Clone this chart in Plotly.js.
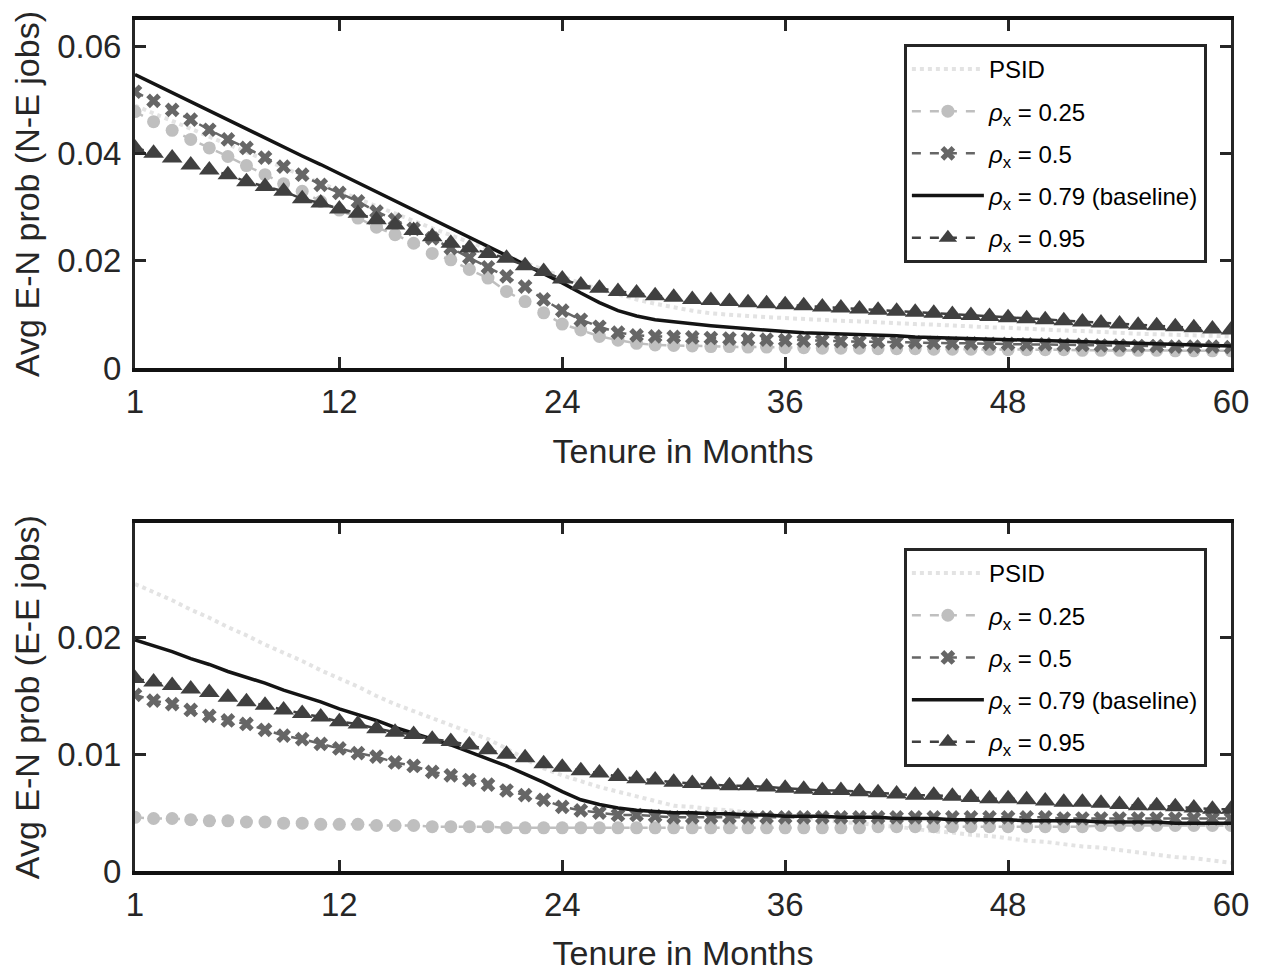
<!DOCTYPE html>
<html>
<head>
<meta charset="utf-8">
<script src="https://cdn.plot.ly/plotly-3.0.1.min.js"></script>
<style>html,body{margin:0;padding:0;background:#fff;}#chart{width:1261px;height:972px;}</style>
</head>
<body>
<div id="chart"></div>
<script>
// Months 1..60
const months = [1,2,3,4,5,6,7,8,9,10,11,12,13,14,15,16,17,18,19,20,21,22,23,24,25,26,27,28,29,30,31,32,33,34,35,36,37,38,39,40,41,42,43,44,45,46,47,48,49,50,51,52,53,54,55,56,57,58,59,60];
const xTickVals = [1,12,24,36,48,60];
const legendNames = ['PSID', '<i>ρ</i><sub>x</sub> = 0.25', '<i>ρ</i><sub>x</sub> = 0.5', '<i>ρ</i><sub>x</sub> = 0.79 (baseline)', '<i>ρ</i><sub>x</sub> = 0.95'];

// Top panel: N-E jobs
const psidTop = [.0490,.0476,.0461,.0447,.0432,.0418,.0403,.0389,.0374,.0360,.0345,.0331,.0316,.0302,.0287,.0274,.0261,.0248,.0235,.0222,.0209,.0196,.0183,.0170,.0158,.0147,.0137,.0128,.0120,.0113,.0107,.0102,.0099,.0097,.0095,.0093,.0091,.0090,.0088,.0087,.0085,.0084,.0082,.0081,.0079,.0078,.0076,.0075,.0073,.0072,.0070,.0069,.0067,.0066,.0064,.0063,.0062,.0061,.0060,.0059];
const rho25Top = [.0479,.0460,.0444,.0427,.0411,.0395,.0378,.0361,.0344,.0330,.0311,.0295,.0280,.0263,.0249,.0233,.0214,.0202,.0184,.0168,.0143,.0124,.0103,.0082,.0071,.0059,.0052,.0046,.0043,.0042,.0041,.0040,.0040,.0039,.0039,.0038,.0038,.0037,.0037,.0037,.0036,.0036,.0036,.0035,.0035,.0035,.0035,.0034,.0034,.0034,.0034,.0033,.0033,.0033,.0033,.0033,.0032,.0032,.0032,.0032];
const rho50Top = [.0516,.0499,.0482,.0464,.0445,.0427,.0411,.0393,.0376,.0361,.0342,.0327,.0311,.0292,.0277,.0260,.0242,.0224,.0206,.0188,.0171,.0152,.0128,.0107,.0090,.0077,.0066,.0061,.0059,.0058,.0057,.0056,.0055,.0054,.0053,.0052,.0051,.0051,.0050,.0049,.0049,.0048,.0048,.0047,.0046,.0046,.0045,.0045,.0044,.0044,.0043,.0043,.0042,.0042,.0041,.0041,.0040,.0040,.0040,.0039];
const rho79Top = [.0548,.0531,.0514,.0497,.0480,.0464,.0447,.0430,.0413,.0396,.0380,.0363,.0346,.0329,.0312,.0296,.0279,.0262,.0245,.0228,.0211,.0194,.0177,.0159,.0140,.0122,.0107,.0097,.0090,.0086,.0082,.0079,.0076,.0073,.0070,.0068,.0066,.0065,.0063,.0062,.0061,.0060,.0058,.0057,.0056,.0055,.0054,.0053,.0052,.0051,.0050,.0049,.0048,.0047,.0046,.0045,.0044,.0043,.0042,.0041];
const rho95Top = [.0411,.0401,.0392,.0379,.0370,.0361,.0348,.0339,.0330,.0316,.0308,.0297,.0289,.0277,.0267,.0257,.0245,.0233,.0224,.0214,.0205,.0191,.0180,.0166,.0155,.0149,.0143,.0140,.0135,.0132,.0128,.0126,.0124,.0122,.0120,.0118,.0116,.0114,.0112,.0110,.0108,.0106,.0104,.0102,.0100,.0098,.0096,.0094,.0092,.0090,.0088,.0086,.0084,.0082,.0080,.0079,.0077,.0075,.0073,.0071];
const yTickValsTop = [0, 0.02, 0.04, 0.06];
const yTickTextTop = ['0', '0.02', '0.04', '0.06'];

// Bottom panel: E-E jobs
const psidBot = [.0246,.0239,.0232,.0224,.0217,.0209,.0202,.0194,.0187,.0180,.0172,.0165,.0158,.0150,.0143,.0137,.0131,.0125,.0119,.0113,.0105,.0096,.0088,.0082,.0077,.0072,.0068,.0064,.0060,.0056,.0055,.0053,.0052,.0050,.0049,.0047,.0046,.0044,.0042,.0041,.0039,.0038,.0036,.0034,.0033,.0031,.0030,.0028,.0026,.0025,.0023,.0021,.0020,.0018,.0016,.0014,.0012,.0011,.0009,.0007];
const rho25Bot = [.0046,.0045,.0045,.0044,.0043,.0043,.0042,.0042,.0041,.0041,.0040,.0040,.0040,.0039,.0039,.0039,.0038,.0038,.0038,.0038,.0037,.0037,.0037,.0037,.0037,.0037,.0037,.0037,.0037,.0037,.0037,.0037,.0037,.0037,.0037,.0037,.0037,.0037,.0037,.0037,.0038,.0038,.0038,.0038,.0038,.0038,.0038,.0038,.0038,.0038,.0038,.0038,.0039,.0039,.0039,.0039,.0039,.0039,.0039,.0039];
const rho50Bot = [.0151,.0146,.0143,.0138,.0133,.0129,.0126,.0121,.0116,.0113,.0109,.0105,.0101,.0098,.0093,.0090,.0085,.0082,.0078,.0074,.0069,.0065,.0061,.0055,.0052,.0050,.0048,.0048,.0047,.0046,.0046,.0046,.0046,.0046,.0046,.0046,.0046,.0046,.0046,.0046,.0046,.0046,.0046,.0046,.0046,.0046,.0046,.0046,.0046,.0046,.0045,.0045,.0045,.0045,.0045,.0045,.0045,.0045,.0045,.0045];
const rho79Bot = [.0198,.0193,.0188,.0182,.0177,.0171,.0166,.0161,.0155,.0150,.0145,.0139,.0134,.0129,.0123,.0118,.0113,.0108,.0102,.0096,.0090,.0083,.0076,.0068,.0061,.0057,.0054,.0052,.0051,.0050,.0050,.0049,.0049,.0048,.0048,.0047,.0047,.0047,.0046,.0046,.0046,.0045,.0045,.0045,.0044,.0044,.0044,.0044,.0043,.0043,.0043,.0043,.0042,.0042,.0042,.0042,.0041,.0041,.0041,.0041];
const rho95Bot = [.0165,.0162,.0159,.0156,.0153,.0149,.0145,.0142,.0138,.0135,.0132,.0128,.0126,.0122,.0119,.0117,.0113,.0111,.0108,.0104,.0100,.0097,.0092,.0089,.0086,.0084,.0081,.0079,.0078,.0076,.0075,.0074,.0073,.0073,.0072,.0071,.0070,.0069,.0069,.0068,.0067,.0066,.0065,.0065,.0064,.0063,.0062,.0062,.0061,.0060,.0059,.0059,.0058,.0057,.0056,.0056,.0055,.0054,.0053,.0053];
const yTickValsBot = [0, 0.01, 0.02];
const yTickTextBot = ['0', '0.01', '0.02'];

const TXT = '#262626';
const FONT = 'Liberation Sans, Arial, Helvetica, sans-serif';

const styles = [
  {line:{color:'#e3e3e3', width:4, dash:'dot'}, mode:'lines'},
  {line:{color:'#bfbfbf', width:2.5, dash:'dash'}, mode:'lines+markers', marker:{symbol:'circle', size:13, color:'#bfbfbf'}},
  {line:{color:'#666666', width:2.5, dash:'dash'}, mode:'lines+markers', marker:{symbol:'x', size:13, color:'#666666'}},
  {line:{color:'#141414', width:3.5}, mode:'lines'},
  {line:{color:'#404040', width:2.5, dash:'dash'}, mode:'lines+markers', marker:{symbol:'triangle-up', size:18, color:'#404040'}}
];

function mk(ys, i, xa, ya, lg) {
  return Object.assign({
    x: months, y: ys, xaxis: xa, yaxis: ya, name: legendNames[i],
    legend: lg, legendgroup: lg + i, type: 'scatter', cliponaxis: true
  }, JSON.parse(JSON.stringify(styles[i])));
}

const data = [];
[psidTop, rho25Top, rho50Top, rho79Top, rho95Top].forEach((s, i) => data.push(mk(s, i, 'x', 'y', 'legend')));
[psidBot, rho25Bot, rho50Bot, rho79Bot, rho95Bot].forEach((s, i) => data.push(mk(s, i, 'x2', 'y2', 'legend2')));

function xax(anchor) {
  return {
    anchor: anchor, domain: [0, 1], range: [1, 60], tickmode: 'array', tickvals: xTickVals,
    ticks: 'inside', ticklen: 11, tickwidth: 3, tickcolor: TXT, ticklabelstandoff: 1,
    showline: true, linewidth: 4, linecolor: '#111111', mirror: 'ticks',
    showgrid: false, zeroline: false,
    tickfont: {family: FONT, size: 33, color: TXT},
    title: {text: 'Tenure in Months', font: {family: FONT, size: 34, color: TXT}, standoff: 22}
  };
}
function yax(anchor, domain, range, tv, tt, title) {
  return {
    anchor: anchor, domain: domain, range: range, tickmode: 'array', tickvals: tv, ticktext: tt,
    ticks: 'inside', ticklen: 11, tickwidth: 3, tickcolor: TXT, ticklabelstandoff: 4,
    showline: true, linewidth: 3, linecolor: TXT, mirror: 'ticks',
    showgrid: false, zeroline: false,
    tickfont: {family: FONT, size: 33, color: TXT},
    title: {text: title, font: {family: FONT, size: 34, color: TXT}, standoff: 8}
  };
}
function leg(y) {
  return {
    x: 0.978, xanchor: 'right', y: y, yanchor: 'top',
    bgcolor: '#ffffff', bordercolor: TXT, borderwidth: 3,
    font: {family: FONT, size: 24, color: '#000000'},
    itemwidth: 72, tracegroupgap: 8, traceorder: 'grouped'
  };
}

const layout = {
  width: 1261, height: 972,
  margin: {l: 135, r: 30, t: 20, b: 101},
  paper_bgcolor: '#ffffff', plot_bgcolor: '#ffffff',
  showlegend: true,
  xaxis: xax('y'),
  yaxis: yax('x', [0.5911, 1], [0, 0.065], yTickValsTop, yTickTextTop, 'Avg E-N prob (N-E jobs)'),
  xaxis2: xax('y2'),
  yaxis2: yax('x2', [0, 0.4086], [0, 0.0298], yTickValsBot, yTickTextBot, 'Avg E-N prob (E-E jobs)'),
  legend: leg(0.972),
  legend2: leg(0.3796)
};

Plotly.newPlot('chart', data, layout, {displayModeBar: false, staticPlot: true});
</script>
</body>
</html>
